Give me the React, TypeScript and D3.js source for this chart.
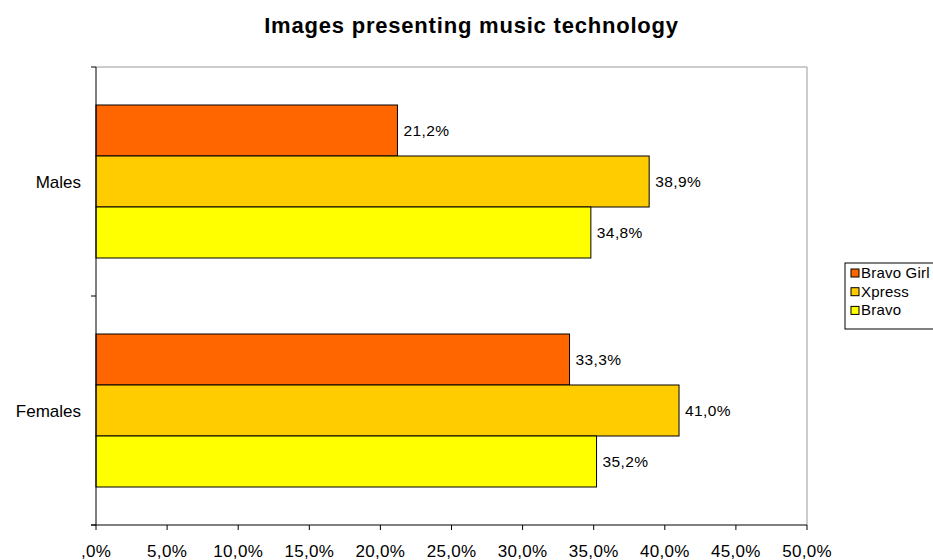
import React from "react";
import * as d3 from "d3";

const categories = ["Males", "Females"];
const seriesNames = ["Bravo Girl", "Xpress", "Bravo"];
const seriesColors = ["#FF6600", "#FFCC00", "#FFFF00"];
const bravoGirl = [21.2, 33.3];
const xpress = [38.9, 41.0];
const bravo = [34.8, 35.2];
const xTicks = [0, 5, 10, 15, 20, 25, 30, 35, 40, 45, 50];

const values = [bravoGirl, xpress, bravo];

const fmt = (v: number) => {
  const s = v.toFixed(1).replace(".", ",");
  return (v === 0 ? s.replace(/^0/, "") : s) + "%";
};

export default function App() {
  const W = 933, H = 560;
  const left = 96, right = 807, top = 67, bottom = 525;
  const x = d3.scaleLinear().domain([0, 50]).range([left, right]);
  const y = d3.scaleBand().domain(categories).range([top, bottom]);
  const groupH = 153;
  const barH = groupH / 3;
  const font = "Liberation Sans, Arial, sans-serif";
  return (
    <svg width={W} height={H} style={{ position: "absolute", left: 0, top: 0, background: "#fff" }}>
      <rect x={0} y={0} width={W} height={H} fill="#fff" />
      <text x={471.5} y={33} textAnchor="middle" fontFamily={font} fontWeight="bold" fontSize={22} letterSpacing={0.8}>
        Images presenting music technology
      </text>
      <line x1={left} x2={right} y1={top} y2={top} stroke="#999" strokeWidth={1} />
      <line x1={right} x2={right} y1={top} y2={bottom} stroke="#999" strokeWidth={1} />
      {categories.map((c, ci) => {
        const y0 = (y(c) as number) + (y.bandwidth() - groupH) / 2;
        return (
          <g key={c}>
            {seriesNames.map((s, si) => {
              const v = values[si][ci];
              const by = y0 + si * barH;
              return (
                <g key={s}>
                  <rect x={x(0)} y={by} width={x(v) - x(0)} height={barH} fill={seriesColors[si]} stroke="#000" strokeWidth={1} />
                  <text x={x(v) + 6} y={by + barH / 2 + 5.5} fontFamily={font} fontSize={15.5} letterSpacing={0.4}>{fmt(v)}</text>
                </g>
              );
            })}
            <text x={81} y={(y(c) as number) + y.bandwidth() / 2 + 6} textAnchor="end" fontFamily={font} fontSize={17}>{c}</text>
          </g>
        );
      })}
      <line x1={left} x2={left} y1={top} y2={bottom} stroke="#000" strokeWidth={1} />
      <line x1={left - 5} x2={right} y1={bottom} y2={bottom} stroke="#000" strokeWidth={1} />
      {[top, top + y.bandwidth(), bottom].map((ty, i) => (
        <line key={i} x1={left - 5} x2={left} y1={ty} y2={ty} stroke="#000" />
      ))}
      {xTicks.map((t) => (
        <g key={t}>
          <line x1={x(t)} x2={x(t)} y1={bottom} y2={bottom + 5} stroke="#000" />
          <text x={x(t)} y={557} textAnchor="middle" fontFamily={font} fontSize={17} letterSpacing={0.3}>{fmt(t)}</text>
        </g>
      ))}
      <rect x={845} y={263} width={100} height={66} fill="#fff" stroke="#000" strokeWidth={1} />
      {seriesNames.map((s, i) => (
        <g key={s}>
          <rect x={851} y={269 + i * 18.7} width={8} height={8} fill={seriesColors[i]} stroke="#000" />
          <text x={861} y={278 + i * 18.7} fontFamily={font} fontSize={15} letterSpacing={0.2}>{s}</text>
        </g>
      ))}
    </svg>
  );
}
